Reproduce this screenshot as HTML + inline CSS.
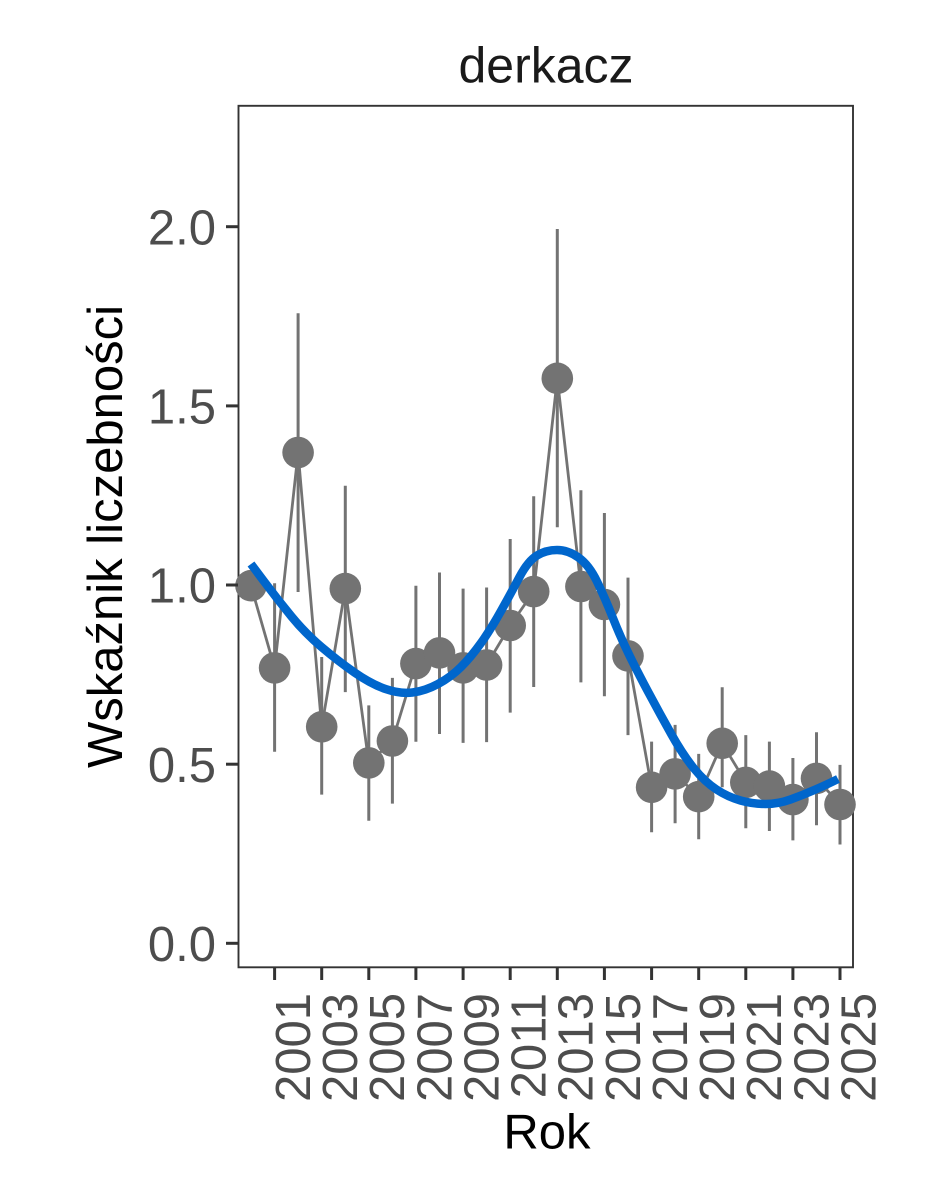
<!DOCTYPE html>
<html>
<head>
<meta charset="utf-8">
<style>
html,body{margin:0;padding:0;background:#fff;}
svg{display:block;}
text{font-family:"Liberation Sans",Arial,sans-serif;}
</style>
</head>
<body>
<svg width="944" height="1181" viewBox="0 0 944 1181" xmlns="http://www.w3.org/2000/svg">
<rect x="0" y="0" width="944" height="1181" fill="#fff"/>

<!-- title -->
<text x="546" y="82.3" font-size="50" text-anchor="middle" fill="#1a1a1a">derkacz</text>

<!-- panel -->
<rect x="238.5" y="105.8" width="614.5" height="861.5" fill="#fff" stroke="#333" stroke-width="1.9"/>

<!-- error bars -->
<g stroke="#737373" stroke-width="3" fill="none">
<line x1="274.6" y1="583.3" x2="274.6" y2="751.8"/>
<line x1="298.1" y1="313.2" x2="298.1" y2="592"/>
<line x1="321.7" y1="657" x2="321.7" y2="794.6"/>
<line x1="345.3" y1="485.7" x2="345.3" y2="692.1"/>
<line x1="368.8" y1="705.4" x2="368.8" y2="820.7"/>
<line x1="392.4" y1="677.9" x2="392.4" y2="803.6"/>
<line x1="415.9" y1="585.7" x2="415.9" y2="741.8"/>
<line x1="439.5" y1="572.5" x2="439.5" y2="734"/>
<line x1="463.1" y1="588.6" x2="463.1" y2="742.9"/>
<line x1="486.6" y1="587.5" x2="486.6" y2="742.1"/>
<line x1="510.2" y1="539" x2="510.2" y2="712.6"/>
<line x1="533.7" y1="496.3" x2="533.7" y2="687"/>
<line x1="557.3" y1="229" x2="557.3" y2="527.3"/>
<line x1="580.9" y1="490.2" x2="580.9" y2="682.4"/>
<line x1="604.4" y1="513" x2="604.4" y2="696.3"/>
<line x1="628" y1="577.6" x2="628" y2="735.1"/>
<line x1="651.6" y1="741.6" x2="651.6" y2="832.2"/>
<line x1="675.1" y1="724.9" x2="675.1" y2="823.3"/>
<line x1="698.7" y1="753.9" x2="698.7" y2="839.2"/>
<line x1="722.2" y1="687.3" x2="722.2" y2="787.3"/>
<line x1="745.8" y1="735.1" x2="745.8" y2="828.2"/>
<line x1="769.4" y1="741.6" x2="769.4" y2="831"/>
<line x1="792.9" y1="758" x2="792.9" y2="840.4"/>
<line x1="816.5" y1="732.2" x2="816.5" y2="825.3"/>
<line x1="840" y1="764.9" x2="840" y2="844.5"/>
</g>

<!-- connecting line -->
<polyline fill="none" stroke="#737373" stroke-width="2.8" stroke-linejoin="round"
points="251,585.7 274.6,667.9 298.1,452.5 321.7,726.8 345.3,588.6 368.8,762.9 392.4,741 415.9,663.6 439.5,652.9 463.1,667.9 486.6,665 510.2,625.5 533.7,591.6 557.3,378.3 580.9,586.5 604.4,604.5 628,655.9 651.6,787.3 675.1,773.9 698.7,796.7 722.2,743.3 745.8,782.4 769.4,786.1 792.9,799.6 816.5,778.4 840,804.5"/>

<!-- points -->
<g fill="#737373">
<circle cx="251" cy="585.7" r="15.8"/>
<circle cx="274.6" cy="667.9" r="15.8"/>
<circle cx="298.1" cy="452.5" r="15.8"/>
<circle cx="321.7" cy="726.8" r="15.8"/>
<circle cx="345.3" cy="588.6" r="15.8"/>
<circle cx="368.8" cy="762.9" r="15.8"/>
<circle cx="392.4" cy="741" r="15.8"/>
<circle cx="415.9" cy="663.6" r="15.8"/>
<circle cx="439.5" cy="652.9" r="15.8"/>
<circle cx="463.1" cy="667.9" r="15.8"/>
<circle cx="486.6" cy="665" r="15.8"/>
<circle cx="510.2" cy="625.5" r="15.8"/>
<circle cx="533.7" cy="591.6" r="15.8"/>
<circle cx="557.3" cy="378.3" r="15.8"/>
<circle cx="580.9" cy="586.5" r="15.8"/>
<circle cx="604.4" cy="604.5" r="15.8"/>
<circle cx="628" cy="655.9" r="15.8"/>
<circle cx="651.6" cy="787.3" r="15.8"/>
<circle cx="675.1" cy="773.9" r="15.8"/>
<circle cx="698.7" cy="796.7" r="15.8"/>
<circle cx="722.2" cy="743.3" r="15.8"/>
<circle cx="745.8" cy="782.4" r="15.8"/>
<circle cx="769.4" cy="786.1" r="15.8"/>
<circle cx="792.9" cy="799.6" r="15.8"/>
<circle cx="816.5" cy="778.4" r="15.8"/>
<circle cx="840" cy="804.5" r="15.8"/>
</g>

<!-- smooth trend -->
<path fill="none" stroke="#0066CC" stroke-width="8.5" stroke-linejoin="round" stroke-linecap="butt"
d="M251,564 L264.5,582 Q278,600 291.5,616.5 Q305,633 321.5,647 Q338,661 354.5,672.5 Q371,684 385.5,689 Q400,694 412.5,692.5 Q425,691 438,684 Q451,677 461,667 Q471,657 481,643 Q491,629 501,611 Q511,593 519.5,577 Q528,561 537,555.5 Q546,550 557,550 Q568,550 578.5,557.5 Q589,565 597,581.5 Q605,598 612.5,617 Q620,636 628.5,653.5 Q637,671 648.5,692.5 Q660,714 671.5,734.5 Q683,755 694,768.5 Q705,782 716.5,789.5 Q728,797 740.5,800.5 Q753,804 765.5,804 Q778,804 790.5,799.5 Q803,795 815.5,789.5 Q828,784 838,779"/>

<!-- y ticks -->
<g stroke="#333" stroke-width="3">
<line x1="226" y1="943.3" x2="238" y2="943.3"/>
<line x1="226" y1="764.2" x2="238" y2="764.2"/>
<line x1="226" y1="585" x2="238" y2="585"/>
<line x1="226" y1="405.9" x2="238" y2="405.9"/>
<line x1="226" y1="226.7" x2="238" y2="226.7"/>
</g>
<g font-size="49" fill="#4D4D4D" text-anchor="end">
<text x="216" y="961">0.0</text>
<text x="216" y="781.9">0.5</text>
<text x="216" y="602.7">1.0</text>
<text x="216" y="423.6">1.5</text>
<text x="216" y="244.4">2.0</text>
</g>

<!-- x ticks -->
<g stroke="#333" stroke-width="3">
<line x1="274.6" y1="968" x2="274.6" y2="980"/>
<line x1="321.7" y1="968" x2="321.7" y2="980"/>
<line x1="368.8" y1="968" x2="368.8" y2="980"/>
<line x1="415.9" y1="968" x2="415.9" y2="980"/>
<line x1="463.1" y1="968" x2="463.1" y2="980"/>
<line x1="510.2" y1="968" x2="510.2" y2="980"/>
<line x1="557.3" y1="968" x2="557.3" y2="980"/>
<line x1="604.4" y1="968" x2="604.4" y2="980"/>
<line x1="651.6" y1="968" x2="651.6" y2="980"/>
<line x1="698.7" y1="968" x2="698.7" y2="980"/>
<line x1="745.8" y1="968" x2="745.8" y2="980"/>
<line x1="792.9" y1="968" x2="792.9" y2="980"/>
<line x1="840" y1="968" x2="840" y2="980"/>
</g>
<g font-size="49" fill="#4D4D4D" text-anchor="end">
<text transform="translate(310,993) rotate(-90)">2001</text>
<text transform="translate(357.1,993) rotate(-90)">2003</text>
<text transform="translate(404.2,993) rotate(-90)">2005</text>
<text transform="translate(451.3,993) rotate(-90)">2007</text>
<text transform="translate(498.5,993) rotate(-90)">2009</text>
<text transform="translate(545.6,993) rotate(-90)">2011</text>
<text transform="translate(592.7,993) rotate(-90)">2013</text>
<text transform="translate(639.8,993) rotate(-90)">2015</text>
<text transform="translate(687,993) rotate(-90)">2017</text>
<text transform="translate(734.1,993) rotate(-90)">2019</text>
<text transform="translate(781.2,993) rotate(-90)">2021</text>
<text transform="translate(828.3,993) rotate(-90)">2023</text>
<text transform="translate(875.4,993) rotate(-90)">2025</text>
</g>

<!-- axis titles -->
<text x="547" y="1148.3" font-size="49" text-anchor="middle" fill="#000">Rok</text>
<text transform="translate(122,536.5) rotate(-90)" font-size="49" text-anchor="middle" fill="#000">Wskaźnik liczebności</text>
</svg>
</body>
</html>
